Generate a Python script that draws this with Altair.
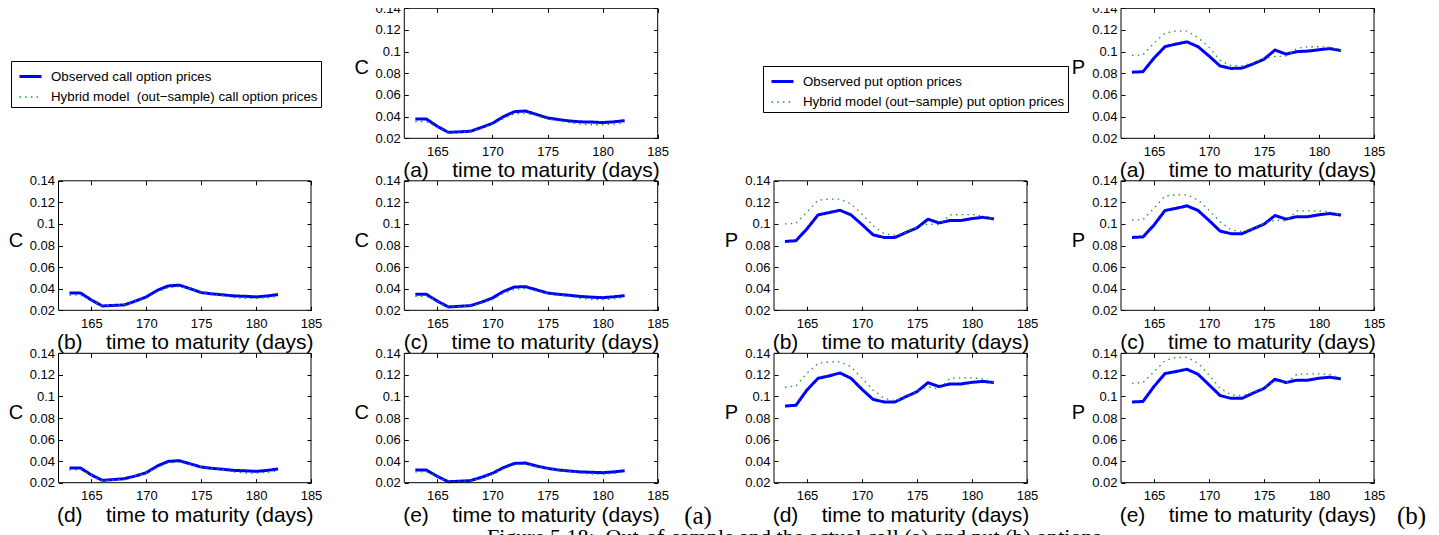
import altair as alt
import pandas as pd

DAYS = list(range(163, 183))

# ---- call option prices (observed / hybrid out-of-sample), panels (a)-(e)
CALL_OBS_A = [0.0378, 0.0378, 0.0310, 0.0255, 0.0260, 0.0265, 0.0300, 0.0338, 0.0400, 0.0446, 0.0452, 0.0420, 0.0388, 0.0373, 0.0360, 0.0352, 0.0350, 0.0345, 0.0352, 0.0363]
CALL_HYB_A = [0.0355, 0.0355, 0.0300, 0.0255, 0.0260, 0.0265, 0.0290, 0.0330, 0.0380, 0.0425, 0.0430, 0.0410, 0.0380, 0.0360, 0.0345, 0.0330, 0.0325, 0.0325, 0.0330, 0.0345]
CALL_OBS_B = [0.0361, 0.0361, 0.0295, 0.0240, 0.0245, 0.0250, 0.0285, 0.0324, 0.0385, 0.0426, 0.0433, 0.0400, 0.0364, 0.0352, 0.0343, 0.0333, 0.0330, 0.0324, 0.0333, 0.0346]
CALL_HYB_B = [0.0340, 0.0340, 0.0290, 0.0240, 0.0245, 0.0250, 0.0280, 0.0315, 0.0370, 0.0410, 0.0420, 0.0400, 0.0365, 0.0350, 0.0335, 0.0318, 0.0310, 0.0310, 0.0315, 0.0330]
CALL_OBS_C = [0.0348, 0.0348, 0.0285, 0.0231, 0.0237, 0.0243, 0.0275, 0.0314, 0.0375, 0.0416, 0.0419, 0.0390, 0.0360, 0.0348, 0.0339, 0.0328, 0.0322, 0.0317, 0.0325, 0.0336]
CALL_HYB_C = [0.0330, 0.0330, 0.0280, 0.0230, 0.0235, 0.0240, 0.0270, 0.0300, 0.0355, 0.0395, 0.0400, 0.0380, 0.0355, 0.0340, 0.0330, 0.0310, 0.0300, 0.0300, 0.0305, 0.0320]
CALL_OBS_D = [0.0336, 0.0336, 0.0272, 0.0222, 0.0229, 0.0237, 0.0262, 0.0293, 0.0355, 0.0398, 0.0404, 0.0375, 0.0345, 0.0333, 0.0324, 0.0314, 0.0310, 0.0305, 0.0314, 0.0327]
CALL_HYB_D = [0.0320, 0.0320, 0.0270, 0.0220, 0.0225, 0.0230, 0.0260, 0.0290, 0.0340, 0.0385, 0.0390, 0.0370, 0.0345, 0.0330, 0.0320, 0.0300, 0.0290, 0.0290, 0.0295, 0.0310]
CALL_OBS_E = [0.0318, 0.0318, 0.0258, 0.0209, 0.0214, 0.0219, 0.0250, 0.0287, 0.0340, 0.0379, 0.0382, 0.0355, 0.0333, 0.0318, 0.0308, 0.0300, 0.0297, 0.0293, 0.0300, 0.0311]
CALL_HYB_E = [0.0300, 0.0300, 0.0255, 0.0205, 0.0210, 0.0215, 0.0245, 0.0280, 0.0330, 0.0365, 0.0370, 0.0350, 0.0330, 0.0315, 0.0305, 0.0290, 0.0280, 0.0280, 0.0285, 0.0300]

# ---- put option prices (observed / hybrid out-of-sample), panels (a)-(e)
PUT_OBS_A = [0.0810, 0.0815, 0.0940, 0.1046, 0.1070, 0.1090, 0.1046, 0.0960, 0.0868, 0.0845, 0.0848, 0.0886, 0.0930, 0.1015, 0.0977, 0.1000, 0.1005, 0.1018, 0.1028, 0.1010]
PUT_HYB_A = [0.0965, 0.0970, 0.1080, 0.1170, 0.1190, 0.1190, 0.1130, 0.1040, 0.0920, 0.0870, 0.0870, 0.0895, 0.0940, 0.0955, 0.0960, 0.1030, 0.1045, 0.1045, 0.1040, 0.1012]
PUT_OBS_B = [0.0838, 0.0845, 0.0955, 0.1084, 0.1105, 0.1127, 0.1084, 0.0995, 0.0900, 0.0875, 0.0875, 0.0921, 0.0964, 0.1044, 0.1010, 0.1032, 0.1032, 0.1050, 0.1062, 0.1047]
PUT_HYB_B = [0.1001, 0.1005, 0.1110, 0.1220, 0.1230, 0.1230, 0.1185, 0.1090, 0.0985, 0.0910, 0.0894, 0.0920, 0.0970, 0.1000, 0.0993, 0.1084, 0.1087, 0.1087, 0.1075, 0.1045]
PUT_OBS_C = [0.0875, 0.0880, 0.0990, 0.1125, 0.1145, 0.1168, 0.1125, 0.1033, 0.0935, 0.0910, 0.0910, 0.0955, 0.0998, 0.1078, 0.1045, 0.1068, 0.1068, 0.1085, 0.1097, 0.1082]
PUT_HYB_C = [0.1035, 0.1040, 0.1145, 0.1258, 0.1270, 0.1270, 0.1222, 0.1128, 0.1020, 0.0945, 0.0930, 0.0955, 0.1005, 0.1035, 0.1028, 0.1120, 0.1122, 0.1122, 0.1110, 0.1080]
PUT_OBS_D = [0.0911, 0.0918, 0.1060, 0.1168, 0.1190, 0.1218, 0.1168, 0.1066, 0.0973, 0.0949, 0.0949, 0.0998, 0.1044, 0.1128, 0.1091, 0.1116, 0.1116, 0.1131, 0.1140, 0.1128]
PUT_HYB_D = [0.1085, 0.1097, 0.1215, 0.1307, 0.1320, 0.1320, 0.1276, 0.1168, 0.1060, 0.0983, 0.0961, 0.0990, 0.1045, 0.1091, 0.1069, 0.1168, 0.1172, 0.1172, 0.1162, 0.1130]
PUT_OBS_E = [0.0948, 0.0954, 0.1092, 0.1212, 0.1231, 0.1252, 0.1206, 0.1108, 0.1009, 0.0982, 0.0982, 0.1031, 0.1074, 0.1160, 0.1129, 0.1151, 0.1151, 0.1169, 0.1178, 0.1163]
PUT_HYB_E = [0.1123, 0.1129, 0.1230, 0.1332, 0.1363, 0.1363, 0.1308, 0.1200, 0.1077, 0.1015, 0.1006, 0.1035, 0.1080, 0.1138, 0.1123, 0.1206, 0.1209, 0.1209, 0.1203, 0.1169]

CALL_LABELS = ["Observed call option prices", "Hybrid model\u00a0\u00a0(out\u2212sample) call option prices"]
PUT_LABELS = ["Observed put option prices", "Hybrid model (out\u2212sample) put option prices"]

X_DOMAIN = [162, 185]
Y_DOMAIN = [0.02, 0.14]
X_TICKS = [165, 170, 175, 180, 185]
Y_TICKS = [0.02, 0.04, 0.06, 0.08, 0.10, 0.12, 0.14]
XTITLE = "\u00a0\u00a0\u00a0\u00a0time to maturity (days)"
GROUP_TAGS = ["(a)", "(b)"]
CAPTION = ["Figure 5.18:\u00a0\u00a0Out-of-sample and the actual call (a) and put (b) options"]

FONT = "Liberation Sans"
SERIF = "Liberation Serif"
BLUE = "#0000ff"
GREEN = "#1e9a1e"
W, H = 1423, 527
TK = 4  # inward tick length

# panel boxes in view pixels
C1, C2, P1, P2 = (50.5, 303.0), (396.3, 649.7), (766.0, 1019.0), (1113.0, 1366.0)
R0, R1, R2 = (0.3, 130.3), (172.8, 302.3), (345.3, 474.7)


def legend_spec(lx, ly):
    return alt.Legend(orient="none", legendX=lx, legendY=ly, title=None, direction="vertical",
                      padding=3, strokeColor="black", fillColor="white",
                      symbolType="stroke", symbolSize=484, symbolOffset=4, labelOffset=8,
                      labelFont=FONT, labelFontSize=13.3, labelColor="black", labelLimit=600,
                      rowPadding=2)


def panel(obs, hyb, labels, col, row, letter, ytitle, legend_pos=None):
    x0, x1 = col
    yt, yb = row
    xs = alt.Scale(domain=X_DOMAIN, range=[x0, x1], nice=False, zero=False)
    ys = alt.Scale(domain=Y_DOMAIN, range=[yb, yt], nice=False, zero=False)
    df = pd.DataFrame({
        "day": DAYS + DAYS,
        "price": obs + hyb,
        "series": [labels[0]] * len(DAYS) + [labels[1]] * len(DAYS),
    })
    bottom = alt.Axis(orient="bottom", values=X_TICKS, format="d", offset=yb - TK - H,
                      domain=False, grid=False, tickSize=TK, tickColor="black", labelFlush=False,
                      labelFont=FONT, labelFontSize=13, labelColor="black",
                      labelBaseline="alphabetic", labelPadding=17,
                      title="(" + letter + ")" + XTITLE, titleFont=FONT, titleFontSize=21,
                      titleFontWeight="normal", titleColor="black", titleX=(x0 + x1) / 2,
                      titleY=TK + 38.5, titleBaseline="alphabetic", titleAlign="center")
    left = alt.Axis(orient="left", values=Y_TICKS, format="~g", offset=-(x0 + TK),
                    domain=False, grid=False, tickSize=TK, tickColor="black", labelFlush=False,
                    labelFont=FONT, labelFontSize=13, labelColor="black", labelPadding=4,
                    title=ytitle, titleFont=FONT, titleFontSize=20, titleFontWeight="normal",
                    titleColor="black", titleAngle=0, titleAlign="center", titleBaseline="middle",
                    titleX=-(TK + 43), titleY=(yt + yb) / 2 - 5.5)
    top = alt.Axis(orient="top", values=X_TICKS, offset=-(yt + TK), domain=False, grid=False,
                   labels=False, tickSize=TK, tickColor="black", title=None)
    right = alt.Axis(orient="right", values=Y_TICKS, offset=x1 - TK - W, domain=False, grid=False,
                     labels=False, tickSize=TK, tickColor="black", title=None)
    leg = legend_spec(*legend_pos) if legend_pos else None
    lines = alt.Chart(df).mark_line(strokeCap="butt", strokeJoin="round").encode(
        x=alt.X("day:Q", scale=xs, axis=bottom),
        y=alt.Y("price:Q", scale=ys, axis=left),
        color=alt.Color("series:N", scale=alt.Scale(domain=labels, range=[BLUE, GREEN]), legend=leg),
        strokeDash=alt.StrokeDash("series:N", scale=alt.Scale(domain=labels, range=[[1, 0], [1.5, 4.2]]), legend=leg),
        strokeWidth=alt.StrokeWidth("series:N", scale=alt.Scale(type="point", domain=labels, range=[3, 1.3]), legend=leg),
    )
    frame_df = pd.DataFrame({"x0": [X_DOMAIN[0]], "x1": [X_DOMAIN[1]],
                             "y0": [Y_DOMAIN[0]], "y1": [Y_DOMAIN[1]]})
    frame = alt.Chart(frame_df).mark_rect(filled=False, stroke="black", strokeWidth=1).encode(
        x=alt.X("x0:Q", scale=xs, axis=top),
        x2="x1:Q",
        y=alt.Y("y0:Q", scale=ys, axis=right),
        y2="y1:Q",
    )
    return [lines, frame]


layers = []
layers += panel(CALL_OBS_A, CALL_HYB_A, CALL_LABELS, C2, R0, "a", "C", legend_pos=(3, 53))
layers += panel(CALL_OBS_B, CALL_HYB_B, CALL_LABELS, C1, R1, "b", "C")
layers += panel(CALL_OBS_C, CALL_HYB_C, CALL_LABELS, C2, R1, "c", "C")
layers += panel(CALL_OBS_D, CALL_HYB_D, CALL_LABELS, C1, R2, "d", "C")
layers += panel(CALL_OBS_E, CALL_HYB_E, CALL_LABELS, C2, R2, "e", "C")
layers += panel(PUT_OBS_A, PUT_HYB_A, PUT_LABELS, P2, R0, "a", "P", legend_pos=(755, 58))
layers += panel(PUT_OBS_B, PUT_HYB_B, PUT_LABELS, P1, R1, "b", "P")
layers += panel(PUT_OBS_C, PUT_HYB_C, PUT_LABELS, P2, R1, "c", "P")
layers += panel(PUT_OBS_D, PUT_HYB_D, PUT_LABELS, P1, R2, "d", "P")
layers += panel(PUT_OBS_E, PUT_HYB_E, PUT_LABELS, P2, R2, "e", "P")

for tag, gx in zip(GROUP_TAGS, [690, 1403.5]):
    layers.append(
        alt.Chart(pd.DataFrame({"t": [tag]})).mark_text(
            font=SERIF, fontSize=25, color="black", align="center", baseline="alphabetic"
        ).encode(text="t:N", x=alt.value(gx), y=alt.value(516))
    )

layers.append(
    alt.Chart(pd.DataFrame({"t": CAPTION})).mark_text(
        font=SERIF, fontSize=22, color="black", align="left", baseline="alphabetic"
    ).encode(text="t:N", x=alt.value(479), y=alt.value(536))
)

chart = (
    alt.layer(*layers)
    .resolve_scale(x="independent", y="independent", color="independent",
                   strokeDash="independent", strokeWidth="independent")
    .resolve_axis(x="independent", y="independent")
    .resolve_legend(color="independent", strokeDash="independent", strokeWidth="independent")
    .properties(width=W, height=H, autosize=alt.AutoSizeParams(type="none"), padding=0)
    .configure_view(stroke=None)
)

chart.save("out.html", embed_options={"renderer": "svg", "actions": False})
